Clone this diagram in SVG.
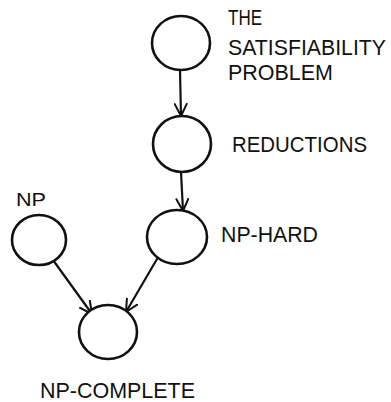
<svg xmlns="http://www.w3.org/2000/svg" width="391" height="402" viewBox="0 0 391 402">
<defs>
<style>
.node{fill:#fff;stroke:#111;stroke-width:2.6}
.edge{fill:none;stroke:#111;stroke-width:2.2;stroke-linecap:round}
.lbl{font-family:"Liberation Sans","DejaVu Sans",sans-serif;font-size:22px;fill:#111}
</style>
<marker id="arr" viewBox="0 0 14 14" refX="13" refY="7" markerWidth="14" markerHeight="14" markerUnits="userSpaceOnUse" orient="auto">
<path d="M1,1 L13,7 L1,13" fill="none" stroke="#111" stroke-width="2" stroke-linecap="round" stroke-linejoin="round"/>
</marker>
</defs>
<rect width="391" height="402" fill="#fff"/>
<g id="connectors">
<path class="edge" d="M180,70 L181,116" marker-end="url(#arr)"/>
<path class="edge" d="M181,172 L183,211" marker-end="url(#arr)"/>
<path class="edge" d="M53,260 L92,314" marker-end="url(#arr)"/>
<path class="edge" d="M157,259 L126,312" marker-end="url(#arr)"/>
</g>
<g id="sat">
<ellipse class="node" cx="181" cy="43" rx="29" ry="27"/>
<text class="lbl" x="228" y="25" textLength="34" lengthAdjust="spacingAndGlyphs">THE</text>
<text class="lbl" x="228" y="55" textLength="158" lengthAdjust="spacingAndGlyphs">SATISFIABILITY</text>
<text class="lbl" x="228" y="80" textLength="105" lengthAdjust="spacingAndGlyphs">PROBLEM</text>
</g>
<g id="reductions">
<ellipse class="node" cx="182" cy="144" rx="29" ry="28"/>
<text class="lbl" x="232" y="152" textLength="135" lengthAdjust="spacingAndGlyphs">REDUCTIONS</text>
</g>
<g id="nphard">
<ellipse class="node" cx="177" cy="237" rx="30" ry="27"/>
<text class="lbl" x="221" y="242" textLength="97" lengthAdjust="spacingAndGlyphs">NP-HARD</text>
</g>
<g id="np">
<ellipse class="node" cx="39" cy="240" rx="27" ry="25"/>
<text class="lbl" x="16" y="206" style="font-size:19px" textLength="30" lengthAdjust="spacingAndGlyphs">NP</text>
</g>
<g id="npcomplete">
<ellipse class="node" cx="108" cy="332" rx="29" ry="27"/>
<text class="lbl" x="40" y="398" textLength="155" lengthAdjust="spacingAndGlyphs">NP-COMPLETE</text>
</g>
</svg>
